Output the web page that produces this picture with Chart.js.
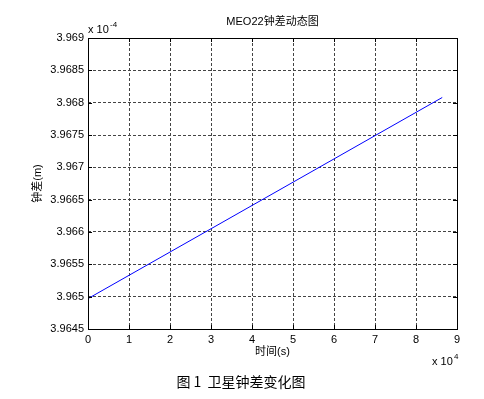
<!DOCTYPE html>
<html>
<head>
<meta charset="utf-8">
<script src="https://cdn.jsdelivr.net/npm/chart.js@4"></script>
<style>
  html, body { margin: 0; padding: 0; background: #fff; }
  #wrap { width: 484px; height: 399px; }
</style>
</head>
<body>
<div id="wrap"><canvas id="clockChart" width="484" height="399"></canvas></div>
<script>
// time in units of 1e4 s, clock bias in units of 1e-4 m
const timeS = [0, 1, 2, 3, 4, 5, 6, 7, 8, 8.64];
const clockBias = [3.96497, 3.96533, 3.96569, 3.96605, 3.96641, 3.96677, 3.96713, 3.96749, 3.96785, 3.96808];
const xTicks = [0, 1, 2, 3, 4, 5, 6, 7, 8, 9];
const yTicks = [3.9645, 3.965, 3.9655, 3.966, 3.9665, 3.967, 3.9675, 3.968, 3.9685, 3.969];

const FONT = "'Liberation Sans', Arial, 'Noto Sans CJK SC', sans-serif";

// MATLAB style box, inward ticks and extra texts
const matlabFrame = {
  id: 'matlabFrame',
  afterDraw(chart) {
    const { ctx, chartArea: a, scales } = chart;
    ctx.save();
    ctx.strokeStyle = '#000';
    ctx.lineWidth = 1;
    ctx.setLineDash([]);
    ctx.strokeRect(Math.round(a.left) + 0.5, Math.round(a.top) + 0.5,
      Math.round(a.right - a.left), Math.round(a.bottom - a.top));
    ctx.beginPath();
    xTicks.forEach(v => {
      const px = Math.round(scales.x.getPixelForValue(v)) + 0.5;
      ctx.moveTo(px, a.bottom); ctx.lineTo(px, a.bottom - 4);
      ctx.moveTo(px, a.top); ctx.lineTo(px, a.top + 4);
    });
    yTicks.forEach(v => {
      const py = Math.round(scales.y.getPixelForValue(v)) + 0.5;
      ctx.moveTo(a.left, py); ctx.lineTo(a.left + 4, py);
      ctx.moveTo(a.right, py); ctx.lineTo(a.right - 4, py);
    });
    ctx.stroke();

    ctx.fillStyle = '#000';
    const cx = (a.left + a.right) / 2;
    ctx.font = '11px ' + FONT;
    ctx.textAlign = 'center';
    ctx.textBaseline = 'middle';
    ctx.fillText('MEO22钟差动态图', cx, 22);
    ctx.fillText('时间(s)', cx, 352);

    ctx.save();
    ctx.translate(38, (a.top + a.bottom) / 2);
    ctx.rotate(-Math.PI / 2);
    ctx.fillText('钟差(m)', 0, 0);
    ctx.restore();

    // exponent labels
    ctx.textAlign = 'left';
    ctx.font = '11px ' + FONT;
    ctx.fillText('x 10', 88, 30);
    ctx.font = '8px ' + FONT;
    ctx.fillText('-4', 110, 25);
    ctx.font = '11px ' + FONT;
    ctx.fillText('x 10', 432, 362);
    ctx.font = '8px ' + FONT;
    ctx.fillText('4', 454, 357);

    // figure caption
    ctx.font = "14px 'Noto Sans CJK SC', sans-serif";
    ctx.textAlign = 'center';
    ctx.fillText('图 1  卫星钟差变化图', 241, 382);
    ctx.restore();
  }
};

const ctx = document.getElementById('clockChart').getContext('2d');

new Chart(ctx, {
  type: 'line',
  data: {
    datasets: [
      {
        data: timeS.map((t, i) => ({ x: t, y: clockBias[i] })),
        borderColor: '#0000ff',
        borderWidth: 1,
        pointRadius: 0,
        tension: 0,
        fill: false,
      },
    ],
  },
  options: {
    responsive: false,
    animation: false,
    events: [],
    layout: {
      padding: { left: 0, right: 27, top: 38, bottom: 0 },
    },
    plugins: {
      legend: { display: false },
      title: { display: false },
      tooltip: { enabled: false },
    },
    scales: {
      x: {
        type: 'linear',
        min: 0,
        max: 9,
        afterBuildTicks: (scale) => {
          scale.ticks = xTicks.map(v => ({ value: v }));
        },
        afterFit: (scale) => {
          scale.height = 70;
        },
        border: { display: false, dash: [3, 2] },
        grid: {
          color: '#444',
          lineWidth: 1,
          drawTicks: false,
        },
        ticks: {
          color: '#000',
          padding: 4,
          maxRotation: 0,
          font: { family: FONT, size: 11 },
          callback: (v) => String(v),
        },
      },
      y: {
        type: 'linear',
        min: 3.9645,
        max: 3.969,
        afterBuildTicks: (scale) => {
          scale.ticks = yTicks.map(v => ({ value: v }));
        },
        afterFit: (scale) => {
          scale.width = 88;
        },
        border: { display: false, dash: [3, 2] },
        grid: {
          color: '#444',
          lineWidth: 1,
          drawTicks: false,
        },
        ticks: {
          color: '#000',
          padding: 4,
          font: { family: FONT, size: 11 },
          callback: (v) => String(v),
        },
      },
    },
  },
  plugins: [matlabFrame],
});
</script>
</body>
</html>
